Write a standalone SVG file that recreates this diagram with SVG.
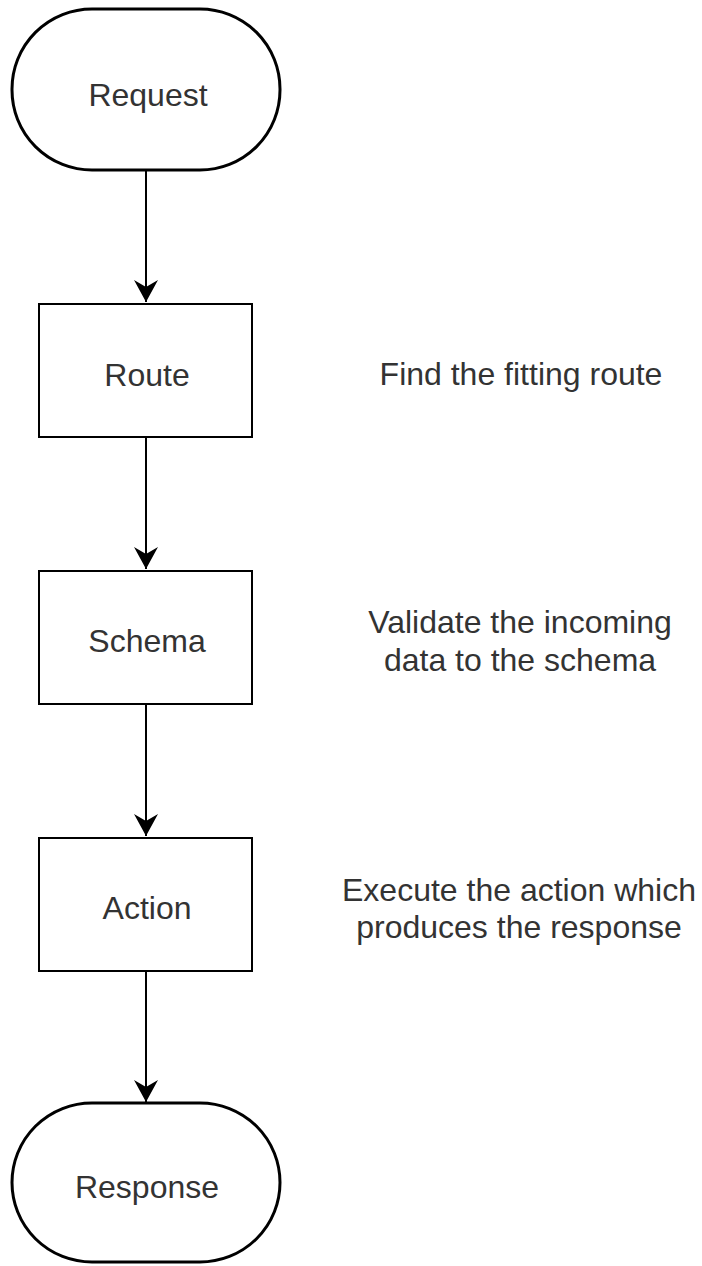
<svg xmlns="http://www.w3.org/2000/svg" width="702" height="1266" viewBox="0 0 702 1266">
<style>
.shape{fill:#fff;stroke:#000;stroke-width:2}
.term{fill:#fff;stroke:#000;stroke-width:3}
.edge{fill:none;stroke:#000;stroke-width:2}
text{font-family:"Liberation Sans",Arial,sans-serif;font-size:32px;fill:#333;text-anchor:middle}
</style>
<defs>
<marker id="arr" markerUnits="userSpaceOnUse" markerWidth="26" markerHeight="26" viewBox="0 0 26 26" refX="24" refY="13" orient="auto">
<path d="M2,1 L24,13 L2,25 L9,13 Z" fill="#000"/>
</marker>
</defs>
<rect width="702" height="1266" fill="#fff"/>
<g id="connectors">
<line class="edge" x1="146" y1="170" x2="146" y2="302" marker-end="url(#arr)"/>
<line class="edge" x1="146" y1="437" x2="146" y2="569" marker-end="url(#arr)"/>
<line class="edge" x1="146" y1="704" x2="146" y2="836" marker-end="url(#arr)"/>
<line class="edge" x1="146" y1="971" x2="146" y2="1102" marker-end="url(#arr)"/>
</g>
<g id="request">
<rect class="term" x="12" y="9" width="268" height="161" rx="80" ry="80"/>
<text x="148" y="106">Request</text>
</g>
<g id="route">
<rect class="shape" x="39" y="304" width="213" height="133"/>
<text x="147" y="386">Route</text>
</g>
<g id="route-note">
<text x="521" y="385">Find the fitting route</text>
</g>
<g id="schema">
<rect class="shape" x="39" y="571" width="213" height="133"/>
<text x="147" y="652">Schema</text>
</g>
<g id="schema-note">
<text x="520" y="633">Validate the incoming</text>
<text x="520" y="671">data to the schema</text>
</g>
<g id="action">
<rect class="shape" x="39" y="838" width="213" height="133"/>
<text x="147" y="919">Action</text>
</g>
<g id="action-note">
<text x="519" y="901">Execute the action which</text>
<text x="519" y="938">produces the response</text>
</g>
<g id="response">
<rect class="term" x="12" y="1103" width="268" height="159" rx="80" ry="80"/>
<text x="147" y="1198">Response</text>
</g>
</svg>
